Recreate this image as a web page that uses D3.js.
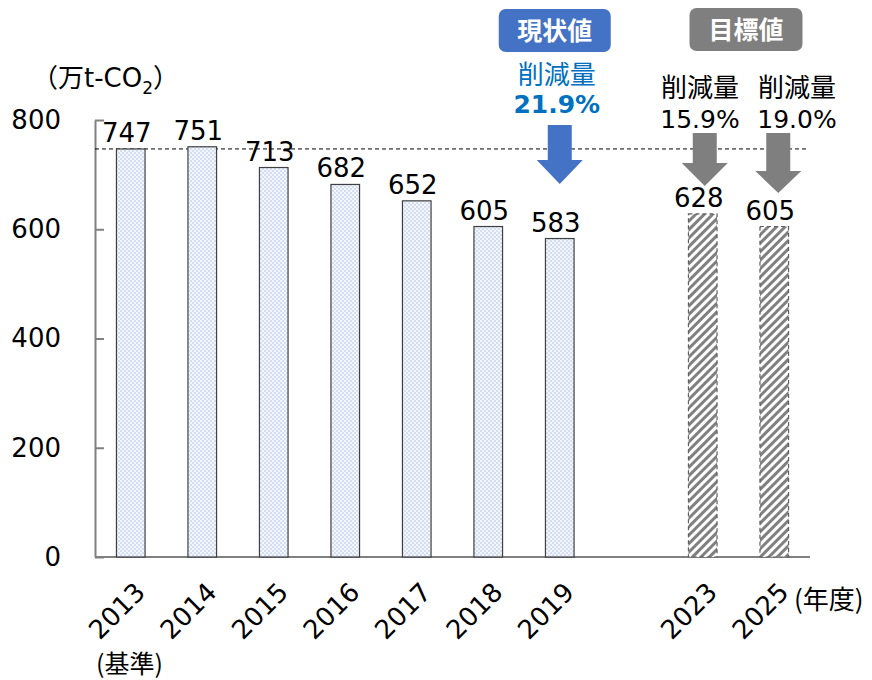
<!DOCTYPE html>
<html>
<head>
<meta charset="utf-8">
<script src="https://cdn.jsdelivr.net/npm/d3@7"></script>
<style>
  body { margin: 0; background: #fff; }
  text { font-family: "DejaVu Sans", "Noto Sans CJK JP", sans-serif; }
  .cjk { font-family: "Noto Sans CJK JP", sans-serif; }
</style>
</head>
<body>
<div id="chart"></div>
<script>
// data
const years = ["2013", "2014", "2015", "2016", "2017", "2018", "2019", "", "2023", "2025"];
const actual = [747, 751, 713, 682, 652, 605, 583, null, null, null];
const target = [null, null, null, null, null, null, null, null, 628, 605];
const yTicks = [0, 200, 400, 600, 800];
const baseValue = 747;
const currentCut = "21.9%";
const targetCuts = [{ year: "2023", cut: "15.9%" }, { year: "2025", cut: "19.0%" }];

const width = 872, height = 680;
const margin = { top: 120, right: 62, bottom: 123, left: 95 };

const svg = d3.select("#chart").append("svg")
    .attr("width", width)
    .attr("height", height);

const defs = svg.append("defs");
const dots = defs.append("pattern")
    .attr("id", "dots").attr("patternUnits", "userSpaceOnUse")
    .attr("width", 4).attr("height", 4);
dots.append("rect").attr("width", 4).attr("height", 4).attr("fill", "#d4def2");
dots.append("rect").attr("width", 2).attr("height", 2).attr("fill", "#f3f6fc");
dots.append("rect").attr("x", 2).attr("y", 2).attr("width", 2).attr("height", 2).attr("fill", "#f3f6fc");

const hatch = defs.append("pattern")
    .attr("id", "hatch").attr("patternUnits", "userSpaceOnUse")
    .attr("width", 6).attr("height", 6)
    .attr("patternTransform", "rotate(45)");
hatch.append("rect").attr("width", 6).attr("height", 6).attr("fill", "#fff");
hatch.append("rect").attr("width", 3).attr("height", 6).attr("fill", "#808080");

const x = d3.scaleBand()
    .domain(years)
    .range([margin.left, width - margin.right])
    .paddingInner(0.6)
    .paddingOuter(0.3);

const y = d3.scaleLinear()
    .domain([0, 800])
    .range([height - margin.bottom, margin.top]);

// y axis, ticks point inward
const yAxis = svg.append("g")
    .attr("transform", `translate(${margin.left},0)`)
    .call(d3.axisRight(y).tickValues(yTicks).tickSize(9).tickSizeOuter(0));
yAxis.select(".domain").attr("stroke", "#808080").attr("stroke-width", 2);
yAxis.selectAll(".tick line").attr("stroke", "#808080").attr("stroke-width", 2);
yAxis.selectAll(".tick text")
    .attr("x", -34).attr("text-anchor", "end")
    .attr("font-size", 26).attr("fill", "#000")
    .style("font-family", "'DejaVu Sans', sans-serif");

// x axis
const xAxis = svg.append("g")
    .attr("transform", `translate(0,${y(0)})`)
    .call(d3.axisBottom(x).tickSize(0));
xAxis.select(".domain").attr("stroke", "#808080").attr("stroke-width", 2)
    .attr("d", `M${margin.left},0H${width - margin.right}`);
xAxis.selectAll(".tick text")
    .attr("font-size", 26).attr("fill", "#000")
    .attr("text-anchor", "end")
    .attr("x", 0).attr("y", 0).attr("dy", "0.7em")
    .attr("transform", "translate(3,24) rotate(-45)");

// baseline dashed line
svg.append("line")
    .attr("x1", margin.left).attr("x2", width - 66)
    .attr("y1", y(baseValue)).attr("y2", y(baseValue))
    .attr("stroke", "#000").attr("stroke-width", 1)
    .attr("stroke-dasharray", "4,3");

// actual bars
svg.append("g").selectAll("rect")
    .data(years.map((d, i) => ({ year: d, v: actual[i] })).filter(d => d.v != null))
    .join("rect")
    .attr("x", d => x(d.year))
    .attr("y", d => y(d.v))
    .attr("width", x.bandwidth())
    .attr("height", d => y(0) - y(d.v))
    .attr("fill", "url(#dots)")
    .attr("stroke", "#404040")
    .attr("stroke-width", 1.2);

// target bars
svg.append("g").selectAll("rect")
    .data(years.map((d, i) => ({ year: d, v: target[i] })).filter(d => d.v != null))
    .join("rect")
    .attr("x", d => x(d.year))
    .attr("y", d => y(d.v))
    .attr("width", x.bandwidth())
    .attr("height", d => y(0) - y(d.v))
    .attr("fill", "url(#hatch)")
    .attr("stroke", "#606060")
    .attr("stroke-width", 1.2)
    .attr("stroke-dasharray", "4,3");

// value labels
const labels = years.map((d, i) => ({ year: d, v: actual[i] != null ? actual[i] : target[i] }))
    .filter(d => d.v != null);
svg.append("g").selectAll("text")
    .data(labels)
    .join("text")
    .attr("x", d => x(d.year) + x.bandwidth() / 2 - 4)
    .attr("y", d => y(d.v) - 7)
    .attr("text-anchor", "middle")
    .attr("font-size", 26)
    .text(d => d.v);

// arrows
function arrow(cx, y0, yHead, y1, color) {
    const sw = 12, hw = 23;
    const pts = [[cx - sw, y0], [cx + sw, y0], [cx + sw, yHead], [cx + hw, yHead],
        [cx, y1], [cx - hw, yHead], [cx - sw, yHead]];
    svg.append("path").attr("d", d3.line()(pts) + "Z").attr("fill", color);
}
const cx19 = x("2019") + x.bandwidth() / 2;
arrow(cx19, 125, 160, 184, "#4472c4");
arrow(x("2023") + x.bandwidth() / 2 + 2, 133, 163, 186, "#7f7f7f");
arrow(x("2025") + x.bandwidth() / 2 + 4, 133, 171, 193, "#7f7f7f");

// badges
function badge(cx, yTop, w, label, color) {
    svg.append("rect")
        .attr("x", cx - w / 2).attr("y", yTop)
        .attr("width", w).attr("height", 43)
        .attr("rx", 7)
        .attr("fill", color);
    svg.append("text")
        .attr("class", "cjk")
        .attr("x", cx).attr("y", yTop + 31)
        .attr("text-anchor", "middle")
        .attr("font-size", 25).attr("font-weight", "bold")
        .attr("fill", "#fff")
        .text(label);
}
badge(cx19 - 5, 9, 112, "現状値", "#4472c4");
badge(746, 8, 113, "目標値", "#7f7f7f");

svg.append("text").attr("class", "cjk")
    .attr("x", cx19 - 3).attr("y", 84)
    .attr("text-anchor", "middle").attr("font-size", 26)
    .attr("fill", "#0070c0").text("削減量");
svg.append("text")
    .attr("x", cx19 - 3).attr("y", 113)
    .attr("text-anchor", "middle").attr("font-size", 25).attr("font-weight", "bold")
    .attr("fill", "#0070c0").text(currentCut);

const cutX = [700, 797];
targetCuts.forEach((t, i) => {
    svg.append("text").attr("class", "cjk")
        .attr("x", cutX[i]).attr("y", 97)
        .attr("text-anchor", "middle").attr("font-size", 26)
        .text("削減量");
    svg.append("text")
        .attr("x", cutX[i]).attr("y", 128)
        .attr("text-anchor", "middle").attr("font-size", 25)
        .text(t.cut);
});

// unit label
const unit = svg.append("text").attr("x", 32).attr("y", 87).attr("font-size", 26);
unit.append("tspan").attr("class", "cjk").text("（万");
unit.append("tspan").text("t-CO");
unit.append("tspan").attr("font-size", 17).attr("dy", 7).text("2");
unit.append("tspan").attr("class", "cjk").attr("dy", -7).text("）");

svg.append("text").attr("class", "cjk")
    .attr("x", 96).attr("y", 673).attr("font-size", 25).text("(基準)");
svg.append("text").attr("class", "cjk")
    .attr("x", 794).attr("y", 609).attr("font-size", 26).text("(年度)");
</script>
</body>
</html>
